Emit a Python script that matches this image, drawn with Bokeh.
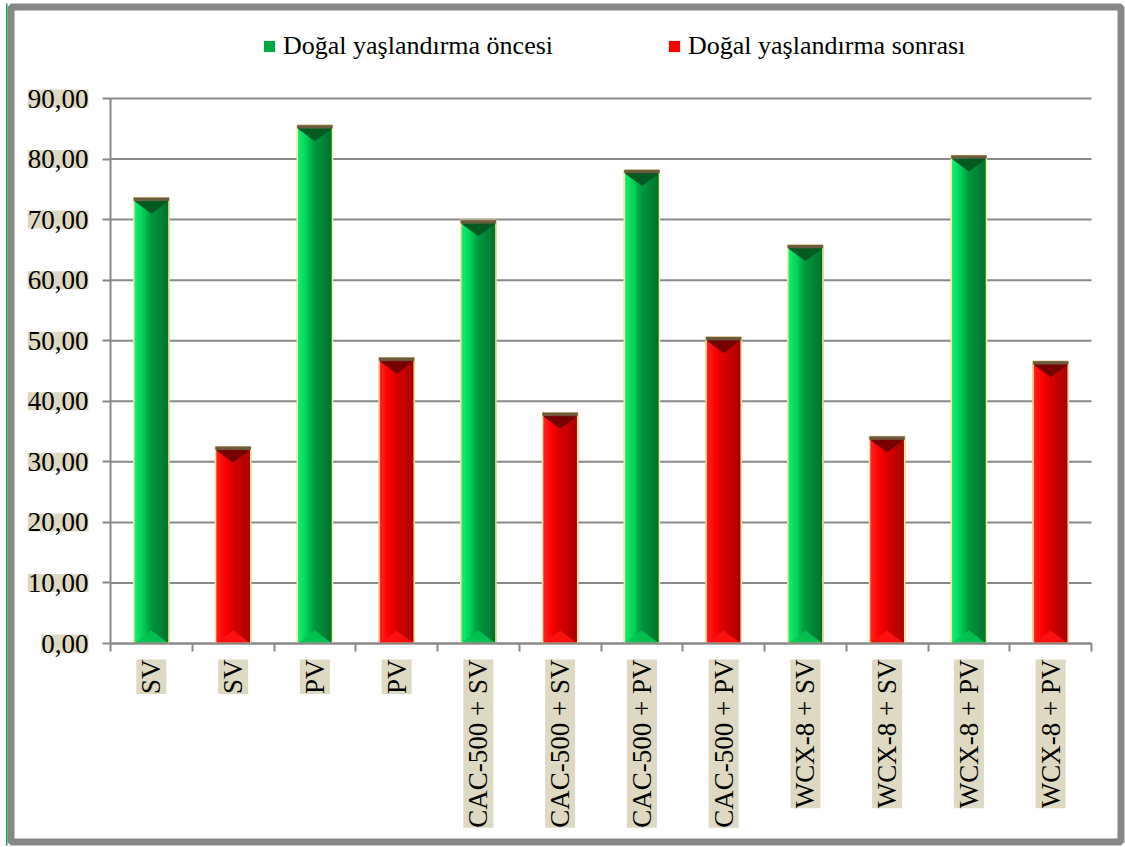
import math
from bokeh.plotting import figure
from bokeh.models import (Range1d, FixedTicker, ColumnDataSource, Legend,
                          LegendItem, BoxAnnotation, LabelSet)
from bokeh.core.properties import value
from bokeh.embed import file_html
from bokeh.resources import INLINE

# ---- data ----
categories = ["SV", "SV", "PV", "PV",
              "CAC-500 + SV", "CAC-500 + SV", "CAC-500 + PV", "CAC-500 + PV",
              "WCX-8 + SV", "WCX-8 + SV", "WCX-8 + PV", "WCX-8 + PV"]
series_names = ["Doğal yaşlandırma öncesi", "Doğal yaşlandırma sonrası"]
before_values = [73.6, 85.6, 69.9, 78.2, 65.8, 80.6]
after_values = [32.5, 47.2, 38.1, 50.6, 34.2, 46.6]
y_ticks = [0, 10, 20, 30, 40, 50, 60, 70, 80, 90]
y_tick_labels = ["0,00", "10,00", "20,00", "30,00", "40,00",
                 "50,00", "60,00", "70,00", "80,00", "90,00"]

# ---- layout (pixels) ----
W, H = 1125, 847
PLOT_L, PLOT_R, PLOT_T, PLOT_B = 110, 1091, 98, 643
Y_MAX = 90

# ---- style ----
FONT = "Liberation Serif"
FONT_SIZE = "27px"
LEGEND_FONT_SIZE = "26px"
GRAY = "#898989"
TAN = "#DDD9C3"
BAR_W = 0.43
N_STRIPS = 14
CAP_H = 0.5
TRI_H = 2.15

GREEN = dict(stops=[(0.0, "#18F27A"), (0.28, "#00D257"), (0.5, "#00983F"),
                    (0.75, "#008636"), (1.0, "#00722C")],
             base="#00A844", top_tri="#005A22", bottom_tri="#00C452")
RED = dict(stops=[(0.0, "#FF2A2A"), (0.28, "#FF0000"), (0.5, "#D80000"),
                  (0.75, "#C20000"), (1.0, "#A80000")],
           base="#FF0000", top_tri="#760000", bottom_tri="#FF1212")


def _rgb(h):
    h = h.lstrip("#")
    return tuple(int(h[i:i + 2], 16) for i in (0, 2, 4))


def gradient(stops, t):
    for (t0, c0), (t1, c1) in zip(stops[:-1], stops[1:]):
        if t0 <= t <= t1:
            f = (t - t0) / (t1 - t0)
            a, b = _rgb(c0), _rgb(c1)
            return "#%02x%02x%02x" % tuple(round(a[i] + (b[i] - a[i]) * f) for i in range(3))
    return stops[-1][1]


# the frame spans the whole canvas; the ranges are widened so that the
# value area sits at PLOT_L..PLOT_R / PLOT_T..PLOT_B
n_cat = len(categories)
px_x = (PLOT_R - PLOT_L) / n_cat
px_y = (PLOT_B - PLOT_T) / Y_MAX
x_range = Range1d(-PLOT_L / px_x, n_cat + (W - PLOT_R) / px_x)
y_range = Range1d(-(H - PLOT_B) / px_y, Y_MAX + PLOT_T / px_y)

p = figure(width=W, height=H, x_range=x_range, y_range=y_range,
           output_backend="svg", toolbar_location=None,
           min_border=0, min_border_left=0, min_border_right=0,
           min_border_top=0, min_border_bottom=0, outline_line_color=None,
           background_fill_color="white", border_fill_color="white")
p.xgrid.visible = False
p.ygrid.visible = False

# ---- axes ----
xa = p.xaxis[0]
xa.fixed_location = 0
xa.bounds = (0, n_cat)
xa.ticker = FixedTicker(ticks=list(range(n_cat + 1)), minor_ticks=[])
xa.major_label_overrides = {i: "" for i in range(n_cat + 1)}
xa.major_tick_out = 8
xa.major_tick_in = 0
xa.major_tick_line_color = GRAY
xa.major_tick_line_width = 2
xa.minor_tick_line_color = None
xa.axis_line_color = GRAY
xa.axis_line_width = 2

ya = p.yaxis[0]
ya.fixed_location = 0
ya.bounds = (0, Y_MAX)
ya.ticker = FixedTicker(ticks=y_ticks, minor_ticks=[])
ya.major_label_overrides = {t: "" for t in y_ticks}
ya.major_tick_out = 8
ya.major_tick_in = 0
ya.major_tick_line_color = GRAY
ya.major_tick_line_width = 2
ya.minor_tick_line_color = None
ya.axis_line_color = GRAY
ya.axis_line_width = 2

# horizontal grid lines across the value area
p.segment(x0=0, x1=n_cat, y0=y_ticks, y1=y_ticks, line_color=GRAY, line_width=2)

# ---- tick labels on tan boxes ----
centers = [i + 0.5 for i in range(n_cat)]
p.add_layout(LabelSet(x="x", y="y", text="text",
                      source=ColumnDataSource(dict(x=centers, y=[0] * n_cat, text=categories)),
                      angle=math.pi / 2, y_offset=-16, text_align="right",
                      text_baseline="middle", text_font=value(FONT),
                      text_font_size=FONT_SIZE, text_color="black",
                      background_fill_color=TAN))
p.add_layout(LabelSet(x="x", y="y", text="text",
                      source=ColumnDataSource(dict(x=[0] * len(y_ticks), y=y_ticks, text=y_tick_labels)),
                      x_offset=-22, text_align="right", text_baseline="middle",
                      text_font=value(FONT), text_font_size=FONT_SIZE,
                      text_color="black", background_fill_color=TAN))


# ---- bars ----
def draw_series(values, positions, style):
    xs = list(positions)
    base = p.vbar(x=xs, top=values, bottom=0, width=BAR_W,
                  fill_color=style["base"], line_color=None)

    sx, stop, scol = [], [], []
    for x, v in zip(xs, values):
        for k in range(N_STRIPS):
            t = (k + 0.5) / N_STRIPS
            sx.append(x - BAR_W / 2 + t * BAR_W)
            stop.append(v - CAP_H)
            scol.append(gradient(style["stops"], t))
    strips = ColumnDataSource(dict(x=sx, top=stop, color=scol))
    p.vbar(x="x", top="top", bottom=0, width=BAR_W / N_STRIPS, source=strips,
           fill_color="color", line_color="color", line_width=1)

    # bevel triangles at the foot and the head of each bar
    p.patches(xs=[[x - BAR_W / 2, x + BAR_W / 2, x] for x in xs],
              ys=[[0, 0, TRI_H] for _ in xs],
              fill_color=style["bottom_tri"], line_color=None, fill_alpha=0.9)
    p.patches(xs=[[x - BAR_W / 2, x + BAR_W / 2, x] for x in xs],
              ys=[[v - CAP_H, v - CAP_H, v - CAP_H - TRI_H] for v in values],
              fill_color=style["top_tri"], line_color=None)
    # rim and cap
    p.vbar(x=xs, top=values, bottom=0, width=BAR_W, fill_color=None,
           line_color="#FFE8A0", line_width=1.5)
    p.vbar(x=xs, top=values, bottom=[v - CAP_H for v in values], width=BAR_W,
           fill_color="#6B5B40", line_color="#6B5B40", line_width=0.5)
    return base


before_pos = [i + 0.5 for i in range(0, n_cat, 2)]
after_pos = [i + 0.5 for i in range(1, n_cat, 2)]
g_base = draw_series(before_values, before_pos, GREEN)
r_base = draw_series(after_values, after_pos, RED)

# ---- legend ----
legend = Legend(items=[LegendItem(label=series_names[0], renderers=[g_base]),
                       LegendItem(label=series_names[1], renderers=[r_base])],
                orientation="horizontal", location=(262, H - 61), padding=0,
                margin=0, spacing=114, glyph_width=14, glyph_height=14,
                label_standoff=7, label_text_font=FONT,
                label_text_font_size=LEGEND_FONT_SIZE, label_text_color="black",
                border_line_color=None, background_fill_alpha=0)
p.add_layout(legend)

# ---- chart frame ----
p.add_layout(BoxAnnotation(left=10.5, right=W - 4.5, top=6.5, bottom=H - 5.5,
                           left_units="canvas", right_units="canvas",
                           top_units="canvas", bottom_units="canvas",
                           fill_alpha=0, line_color="#878787", line_alpha=1,
                           line_width=7))
p.add_layout(BoxAnnotation(left=5.5, right=7, top=3, bottom=H - 2,
                           left_units="canvas", right_units="canvas",
                           top_units="canvas", bottom_units="canvas",
                           fill_color="#1FA05A", fill_alpha=1, line_color=None))

with open("out.html", "w", encoding="utf-8") as f:
    f.write(file_html(p, INLINE))
